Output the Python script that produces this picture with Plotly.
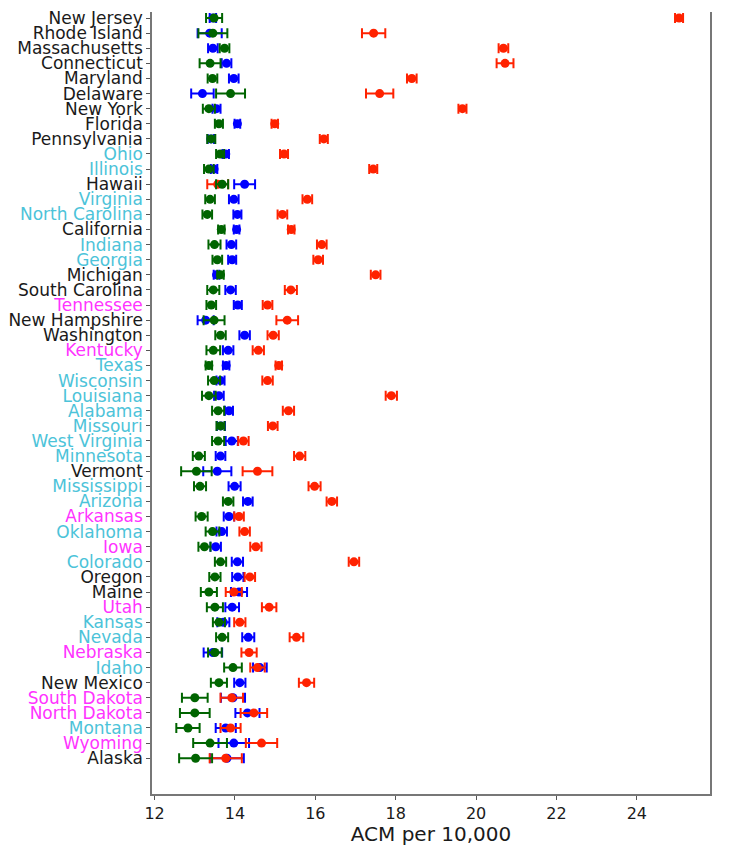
import plotly.graph_objects as go

states = ["New Jersey", "Rhode Island", "Massachusetts", "Connecticut", "Maryland",
          "Delaware", "New York", "Florida", "Pennsylvania", "Ohio", "Illinois", "Hawaii",
          "Virginia", "North Carolina", "California", "Indiana", "Georgia", "Michigan",
          "South Carolina", "Tennessee", "New Hampshire", "Washington", "Kentucky", "Texas",
          "Wisconsin", "Louisiana", "Alabama", "Missouri", "West Virginia", "Minnesota",
          "Vermont", "Mississippi", "Arizona", "Arkansas", "Oklahoma", "Iowa", "Colorado",
          "Oregon", "Maine", "Utah", "Kansas", "Nevada", "Nebraska", "Idaho", "New Mexico",
          "South Dakota", "North Dakota", "Montana", "Wyoming", "Alaska"]

# label colour group: k = black, c = cyan, m = magenta
groups = ["k", "k", "k", "k", "k", "k", "k", "k", "k", "c", "c", "k",
          "c", "c", "k", "c", "c", "k", "k", "m", "k", "k", "m", "c",
          "c", "c", "c", "c", "c", "c", "k", "c", "c", "m", "c", "m", "c",
          "k", "k", "m", "c", "c", "m", "c", "k", "m", "m", "c", "m", "k"]

red = [25.05, 17.45, 20.68, 20.72, 18.4, 17.6, 19.66, 14.99, 16.21, 15.22, 17.44, 13.57,
       15.8, 15.18, 15.4, 16.16, 16.07, 17.5, 15.39, 14.81, 15.3, 14.95, 14.58, 15.09,
       14.81, 17.89, 15.33, 14.94, 14.21, 15.61, 14.56, 15.98, 16.41, 14.1, 14.24, 14.52,
       16.96, 14.37, 13.97, 14.85, 14.12, 15.53, 14.35, 14.56, 15.78, 13.92, 14.47, 13.89,
       14.66, 13.77]
red_err = [0.1, 0.29, 0.12, 0.21, 0.12, 0.34, 0.1, 0.08, 0.1, 0.1, 0.1, 0.26,
           0.12, 0.12, 0.08, 0.12, 0.12, 0.12, 0.15, 0.12, 0.27, 0.14, 0.14, 0.08,
           0.13, 0.14, 0.14, 0.12, 0.13, 0.14, 0.37, 0.15, 0.13, 0.12, 0.13, 0.14,
           0.13, 0.13, 0.2, 0.18, 0.14, 0.17, 0.19, 0.18, 0.19, 0.28, 0.33, 0.25,
           0.39, 0.4]

blue = [13.45, 13.37, 13.45, 13.79, 13.97, 13.19, 13.54, 14.06, 13.4, 13.77, 13.48, 14.24,
        13.97, 14.06, 14.04, 13.91, 13.93, 13.54, 13.89, 14.07, 13.27, 14.24, 13.83, 13.78,
        13.64, 13.6, 13.85, 13.65, 13.92, 13.64, 13.56, 13.99, 14.32, 13.85, 13.67, 13.52,
        14.06, 14.07, 14.1, 13.93, 13.71, 14.33, 13.45, 14.62, 14.12, 13.95, 14.31, 13.77,
        13.97, 13.8]
blue_err = [0.08, 0.3, 0.12, 0.12, 0.12, 0.28, 0.1, 0.07, 0.08, 0.08, 0.08, 0.26,
            0.12, 0.1, 0.07, 0.12, 0.1, 0.07, 0.13, 0.1, 0.2, 0.13, 0.13, 0.08,
            0.1, 0.12, 0.1, 0.1, 0.15, 0.12, 0.35, 0.15, 0.12, 0.13, 0.13, 0.13,
            0.14, 0.14, 0.2, 0.17, 0.15, 0.15, 0.23, 0.17, 0.14, 0.3, 0.3, 0.25,
            0.38, 0.42]

green = [13.48, 13.45, 13.74, 13.38, 13.44, 13.89, 13.35, 13.6, 13.41, 13.63, 13.35, 13.68,
         13.38, 13.31, 13.66, 13.49, 13.56, 13.64, 13.46, 13.41, 13.48, 13.64, 13.46, 13.35,
         13.48, 13.35, 13.58, 13.64, 13.58, 13.1, 13.04, 13.13, 13.83, 13.17, 13.44, 13.24,
         13.64, 13.5, 13.35, 13.5, 13.6, 13.68, 13.5, 13.95, 13.6, 13.0, 13.0, 12.83,
         13.38, 13.02]
green_err = [0.2, 0.36, 0.12, 0.26, 0.12, 0.36, 0.15, 0.1, 0.1, 0.1, 0.12, 0.15,
             0.12, 0.12, 0.08, 0.15, 0.12, 0.08, 0.15, 0.12, 0.26, 0.13, 0.17, 0.08,
             0.15, 0.17, 0.15, 0.1, 0.15, 0.15, 0.38, 0.15, 0.13, 0.15, 0.17, 0.15,
             0.14, 0.14, 0.2, 0.2, 0.15, 0.15, 0.17, 0.22, 0.2, 0.32, 0.37, 0.29,
             0.42, 0.41]

label_colors = {"k": "#1a1a1a", "c": "#4cc3d9", "m": "#ff33ff"}
pos = list(range(len(states)))
ticktext = [f'<span style="color:{label_colors[g]}">{s}</span>' for s, g in zip(states, groups)]

fig = go.Figure()

for vals, errs, col in [(blue, blue_err, "#0000ff"),
                        (red, red_err, "#ff2200"),
                        (green, green_err, "#006400")]:
    fig.add_trace(go.Scatter(
        x=vals, y=pos, mode="markers",
        marker=dict(size=9, color=col),
        error_x=dict(type="data", array=errs, color=col, thickness=2, width=5),
        showlegend=False,
    ))

# page body has an 8px margin, so the figure is shrunk by that much
fig.update_layout(
    width=734, height=838,
    margin=dict(l=144, r=32, t=0, b=52),
    plot_bgcolor="white", paper_bgcolor="white",
    font=dict(family="DejaVu Sans", size=17, color="#1a1a1a"),
    xaxis=dict(range=[11.935, 25.82], tickvals=[12, 14, 16, 18, 20, 22, 24],
               showgrid=False, zeroline=False, showline=True, linecolor="#777777",
               linewidth=1.5, ticks="outside", ticklen=4, tickcolor="#555",
               title=dict(text="ACM per 10,000", standoff=4),
               tickfont=dict(size=16)),
    yaxis=dict(range=[51.37, -0.4], tickvals=pos, ticktext=ticktext,
               showgrid=False, zeroline=False, showline=True, mirror=True,
               linecolor="#777777", linewidth=1.5, ticks="outside", ticklen=4,
               tickcolor="#555", tickfont=dict(size=17),
               ticklabeloverflow="allow"),
)

fig.write_html("out.html")
